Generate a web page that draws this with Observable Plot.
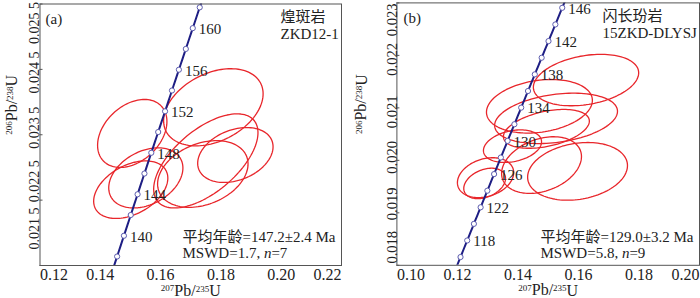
<!DOCTYPE html>
<html><head><meta charset="utf-8">
<script src="https://cdn.jsdelivr.net/npm/d3@7"></script>
<script src="https://cdn.jsdelivr.net/npm/@observablehq/plot@0.6"></script>
<style>
body{margin:0;background:#fff;}
#wrap{display:flex;width:700px;height:298px;overflow:hidden;}
</style></head><body><div id="wrap"></div>
<script>
// ---------- Panel (a): 煌斑岩 ZKD12-1 ----------
const aMarkAges = [138,140,142,144,146,148,150,152,154,156,158,160,162];
const aLabelAges = [140,144,148,152,156,160];
const aEllX   = [0.1775, 0.1506, 0.1750, 0.1848, 0.1740, 0.1551, 0.1501];
const aEllY   = [0.02392, 0.02352, 0.02310, 0.02319, 0.02290, 0.02284, 0.02266];
const aEllSX  = [0.0165, 0.0115, 0.0173, 0.0125, 0.0150, 0.0123, 0.0123];
const aEllSY  = [0.00059, 0.00052, 0.00072, 0.00042, 0.00051, 0.00046, 0.00044];
const aEllRho = [0.35, 0.35, 0.6, 0.3, 0.3, 0.33, 0.4];
const aXTicks = [0.12, 0.14, 0.16, 0.18, 0.20, 0.22];
const aYTicks = [0.0215, 0.0225, 0.0235, 0.0245, 0.0255];

// ---------- Panel (b): 闪长玢岩 15ZKD-DLYSJ ----------
const bMarkAges = [116,118,120,122,124,126,128,130,132,134,136,138,140,142,144,146];
const bLabelAges = [118,122,126,130,134,138,142,146];
const bEllX   = [0.1625, 0.1471, 0.1526, 0.1494, 0.1382, 0.1478, 0.1597, 0.1293, 0.1290];
const bEllY   = [0.02153, 0.02103, 0.02080, 0.02060, 0.02027, 0.01991, 0.01979, 0.01967, 0.01956];
const bEllSX  = [0.0174, 0.0175, 0.0203, 0.0142, 0.0096, 0.0132, 0.0165, 0.0093, 0.0069];
const bEllSY  = [0.00049, 0.00051, 0.00048, 0.00037, 0.00031, 0.00054, 0.00055, 0.00038, 0.00029];
const bEllRho = [0.28, 0.22, 0.28, 0.4, 0.27, 0.3, 0.2, 0.25, 0.33];
const bXTicks = [0.10, 0.12, 0.14, 0.16, 0.18, 0.20];
const bYTicks = [0.018, 0.019, 0.020, 0.021, 0.022, 0.023];

// decay constants (concordia)
const L238 = 1.55125e-10, L235 = 9.8485e-10;
const r68 = t => Math.expm1(L238 * t * 1e6);
const r75 = t => Math.expm1(L235 * t * 1e6);

const FONT = '"Liberation Serif","Noto Sans CJK SC",serif';
const RED = "#e8262b", NAVY = "#1e1e84";

function ellipsePoints(xs, ys, sxs, sys, rhos) {
  const pts = [], n = 120;
  xs.forEach((cx, i) => {
    const r = rhos[i], k = Math.sqrt(1 - r * r);
    for (let j = 0; j < n; j++) {
      const t = 2 * Math.PI * j / n;
      pts.push({id: i, x: cx + sxs[i] * Math.cos(t), y: ys[i] + sys[i] * (r * Math.cos(t) + k * Math.sin(t))});
    }
  });
  return pts;
}

function panel(cfg) {
  const curve = d3.range(cfg.ageLo, cfg.ageHi, 0.5).map(t => ({x: r75(t), y: r68(t)}));
  const marks = cfg.markAges.map(t => ({x: r75(t), y: r68(t)}));
  const labels = cfg.labelAges.map(t => ({x: r75(t), y: r68(t), t}));
  const ell = ellipsePoints(cfg.ex, cfg.ey, cfg.esx, cfg.esy, cfg.erho);
  const xt = cfg.xTicks, yt = cfg.yTicks;
  const xAx = {tickSize: 0, tickPadding: 3, fontSize: 16, tickFormat: d3.format(".2f"), label: null};
  const yAx = {tickSize: 0, tickPadding: cfg.yPad, tickRotate: -90, fontSize: cfg.yFont, tickFormat: cfg.yFmt, label: null};
  const txt = (s, o) => Plot.text([s], {text: d => d, fontSize: 15, textAnchor: "start", lineAnchor: "middle", fill: "#222", ...o});
  return Plot.plot({
    width: 350, height: 298,
    marginLeft: cfg.ml, marginRight: cfg.mr, marginTop: cfg.mt, marginBottom: cfg.mb,
    style: {fontFamily: FONT, background: "transparent", color: "#222"},
    x: {domain: cfg.xDomain},
    y: {domain: cfg.yDomain},
    marks: [
      Plot.line(ell, {x: "x", y: "y", z: "id", curve: "linear-closed", stroke: RED, strokeWidth: 1.3, clip: true}),
      Plot.line(curve, {x: "x", y: "y", stroke: NAVY, strokeWidth: 2, clip: true}),
      Plot.dot(marks, {x: "x", y: "y", r: 2.6, fill: "white", stroke: "#5c5cae", strokeWidth: 1}),
      Plot.text(labels, {x: "x", y: "y", text: d => String(d.t), textAnchor: "start", dx: 6, dy: 1, fontSize: 15, fill: "#222"}),
      Plot.frame({stroke: "#555", strokeWidth: 1}),
      Plot.axisX(xt.slice(1, -1), xAx),
      Plot.axisX([xt[0]], {...xAx, textAnchor: "start"}),
      Plot.axisX([xt[xt.length - 1]], {...xAx, textAnchor: "end"}),
      ...yt.map((v, i) => Plot.axisY([v], {...yAx, dy: cfg.yDy[i]})),
      Plot.axisY(yt, {tickSize: 3, dx: 3, tickFormat: () => "", label: null, stroke: "#555"}),
      Plot.text(["X207Pb/235U"], {text: d => d, frameAnchor: "bottom", dy: 24.5, fontSize: 16, lineAnchor: "middle", fill: "#222"}),
      Plot.text(["Y206Pb/238U"], {text: d => d, frameAnchor: "left", dx: cfg.ylabDx, rotate: -90, fontSize: 16, lineAnchor: "middle", fill: "#222"}),
      txt(cfg.tag, {frameAnchor: "top-left", dx: cfg.tagDx, dy: 15}),
      txt(cfg.rock, {frameAnchor: "top-left", dx: cfg.rockDx, dy: 13.5}),
      txt(cfg.sample, {frameAnchor: "top-left", dx: cfg.rockDx, dy: 30}),
      txt(cfg.age, {frameAnchor: "bottom-left", dx: cfg.statDx, dy: -28}),
      txt(cfg.mswd, {frameAnchor: "bottom-left", dx: cfg.statDx, dy: -12.5})
    ]
  });
}

function rich(svg) {
  d3.select(svg).selectAll("text").each(function () {
    const s = this.textContent;
    const el = d3.select(this);
    if (s === "X207Pb/235U" || s === "Y206Pb/238U") {
      const a = s[0] === "X" ? ["207", "235"] : ["206", "238"];
      el.text(null);
      el.append("tspan").attr("font-size", 9).attr("dy", "-0.45em").text(a[0]);
      el.append("tspan").attr("font-size", 16).attr("dy", "0.28em").text("Pb/");
      el.append("tspan").attr("font-size", 9).attr("dy", "-0.45em").text(a[1]);
      el.append("tspan").attr("font-size", 16).attr("dy", "0.28em").text("U");
    } else if (s.startsWith("MSWD")) {
      const m = s.match(/^(.*, )n(=.*)$/);
      if (m) {
        el.text(null);
        el.append("tspan").text(m[1]);
        el.append("tspan").attr("font-style", "italic").text("n");
        el.append("tspan").text(m[2]);
      }
    }
  });
  return svg;
}

const wrap = document.getElementById("wrap");
wrap.appendChild(rich(panel({
  ml: 39.5, mr: 9, mt: 3.5, mb: 33,
  xDomain: [0.12, 0.22], yDomain: [0.0215, 0.0255],
  xTicks: aXTicks, yTicks: aYTicks,
  yFmt: d => d3.format(".4f")(d).replace(/(\d)$/, " $1"), yPad: 1, ylabDx: -29, yFont: 14,
  yDy: [-37, -19, -7, 3, 19],
  markAges: aMarkAges, labelAges: aLabelAges, ageLo: 125, ageHi: 175,
  ex: aEllX, ey: aEllY, esx: aEllSX, esy: aEllSY, erho: aEllRho,
  tag: "(a)", tagDx: 5.5, rock: "煌斑岩", sample: "ZKD12-1", rockDx: 240.5,
  age: "平均年龄=147.2±2.4 Ma", mswd: "MSWD=1.7, n=7", statDx: 142.5
})));
wrap.appendChild(rich(panel({
  ml: 46.4, mr: 1, mt: 2.4, mb: 33.2,
  xDomain: [0.10, 0.20], yDomain: [0.018, 0.023],
  xTicks: bXTicks, yTicks: bYTicks,
  yFmt: d3.format(".3f"), yPad: 0, ylabDx: -36, yFont: 14.5,
  yDy: [-18, -9, -3, 4, 4, 17],
  markAges: bMarkAges, labelAges: bLabelAges, ageLo: 105, ageHi: 155,
  ex: bEllX, ey: bEllY, esx: bEllSX, esy: bEllSY, erho: bEllRho,
  tag: "(b)", tagDx: 6.6, rock: "闪长玢岩", sample: "15ZKD-DLYSJ", rockDx: 205.6,
  age: "平均年龄=129.0±3.2 Ma", mswd: "MSWD=5.8, n=9", statDx: 143.6
})));
</script>
</body></html>
